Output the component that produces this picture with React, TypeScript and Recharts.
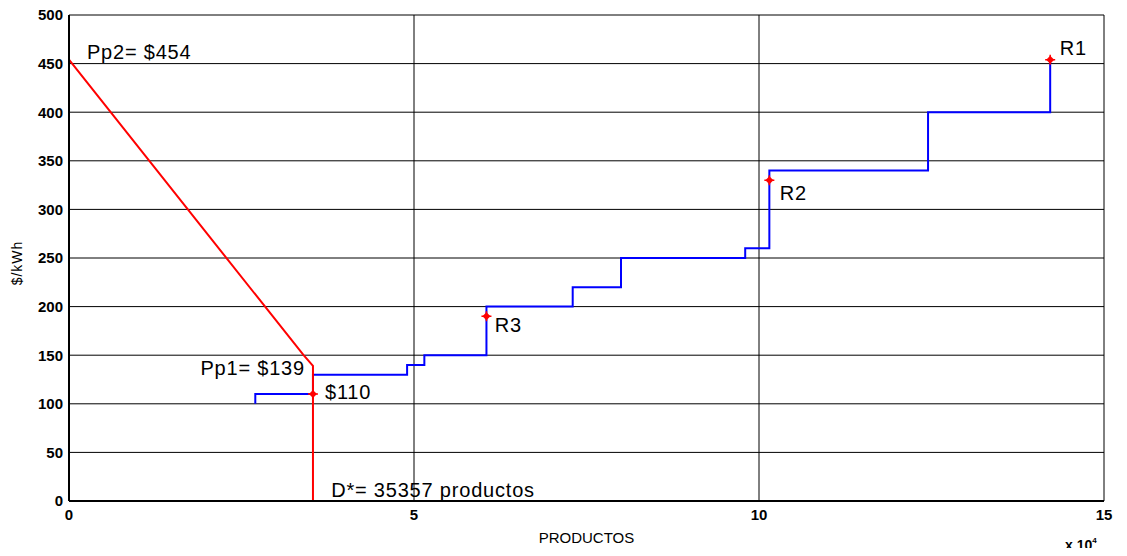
import React from 'react'
import {
    ComposedChart,
    XAxis,
    YAxis,
    CartesianGrid,
    Line,
    Scatter,
} from 'recharts'

// offer curve (step), corners as quantity / price
const offerQty = [27000, 35357, 49000, 51500, 60500, 73000, 80000, 98000, 101500, 124500, 142200, 142200]
const offerPrice = [100, 110, 130, 140, 150, 200, 220, 250, 260, 340, 400, 454]

// demand curve
const demandQty = [0, 34000, 35357, 35357]
const demandPrice = [454, 150, 139, 0]

// red markers
const markQty = [35357, 60500, 101500, 142200]
const markPrice = [110, 190, 330, 454]

// text notes on the plot
const noteText = ['Pp2= $454', 'Pp1= $139', '$110', 'R3', 'R2', 'R1', 'D*= 35357 productos']
const noteQty = [2600, 34200, 37100, 61700, 103000, 143600, 38000]
const notePrice = [462, 137, 112, 181, 317, 466, 11]
const noteAnchor = ['start', 'end', 'start', 'start', 'start', 'start', 'start']

const xTicks = [0, 50000, 100000, 150000]
const yTicks = [0, 50, 100, 150, 200, 250, 300, 350, 400, 450, 500]

const FONT = '"Liberation Sans", Arial, sans-serif'

const offer = offerQty.map((x, i) => ({ x, y: offerPrice[i] }))
const demand = demandQty.map((x, i) => ({ x, y: demandPrice[i] }))
const marks = markQty.map((x, i) => ({ x, y: markPrice[i] }))
const notes = noteText.map((t, i) => ({ x: noteQty[i], y: notePrice[i], t, a: noteAnchor[i] }))

const Marker = (p: any) => {
    const { cx, cy } = p
    return (
        <g>
            <path d={`M${cx - 4},${cy} L${cx},${cy - 4} L${cx + 4},${cy} L${cx},${cy + 4} Z`} fill="#ff0000" />
            <path d={`M${cx - 5},${cy} H${cx + 5} M${cx},${cy - 5} V${cy + 5}`} stroke="#ff0000" strokeWidth={1.5} />
        </g>
    )
}

const Note = (p: any) => (
    <text
        x={p.cx}
        y={p.cy}
        dy="0.35em"
        textAnchor={p.payload.a}
        fontFamily={FONT}
        fontSize={20}
        letterSpacing={0.8}
        fill="#000"
    >
        {p.payload.t}
    </text>
)

const XLabel = (p: any) => {
    const vb = p.viewBox
    return (
        <g fontFamily={FONT} fill="#000">
            <text x={vb.x + vb.width / 2} y={vb.y + 42} textAnchor="middle" fontSize={15}>PRODUCTOS</text>
            <text x={vb.x + vb.width - 39} y={vb.y + 49} fontSize={14} fontWeight="bold">
                x 10<tspan dy={-7} fontSize={8}>4</tspan>
            </text>
        </g>
    )
}

const YLabel = () => (
    <text
        x={17}
        y={263}
        transform="rotate(-90 17 263)"
        textAnchor="middle"
        dy="0.35em"
        fontFamily={FONT}
        fontSize={14}
        letterSpacing={1}
        fill="#000"
    >
        $/kWh
    </text>
)

const App = () => {
    const tick = { fill: '#000', fontSize: 15, fontWeight: 'bold', fontFamily: FONT }
    return (
        <div style={{ margin: -8 }}>
            <ComposedChart
                width={1127}
                height={556}
                margin={{ top: 15, right: 23, bottom: 25, left: 9 }}
            >
                <CartesianGrid stroke="#000" strokeWidth={1} horizontalValues={yTicks} verticalValues={xTicks} />
                <XAxis
                    dataKey="x"
                    type="number"
                    domain={[0, 150000]}
                    ticks={xTicks}
                    tickFormatter={(v: number) => String(v / 10000)}
                    allowDataOverflow
                    height={30}
                    tick={tick}
                    tickLine={false}
                    axisLine={{ stroke: '#000', strokeWidth: 2 }}
                    label={<XLabel />}
                />
                <YAxis
                    dataKey="y"
                    type="number"
                    domain={[0, 500]}
                    ticks={yTicks}
                    allowDataOverflow
                    width={60}
                    tick={tick}
                    tickLine={false}
                    tickMargin={0}
                    axisLine={{ stroke: '#000', strokeWidth: 2 }}
                    label={<YLabel />}
                />
                <Line
                    data={offer}
                    dataKey="y"
                    type="stepBefore"
                    stroke="#0000ff"
                    strokeWidth={2}
                    dot={false}
                    isAnimationActive={false}
                />
                <Line
                    data={demand}
                    dataKey="y"
                    type="linear"
                    stroke="#ff0000"
                    strokeWidth={2}
                    dot={false}
                    isAnimationActive={false}
                />
                <Scatter data={marks} dataKey="y" shape={Marker} isAnimationActive={false} />
                <Scatter data={notes} dataKey="y" shape={Note} isAnimationActive={false} />
            </ComposedChart>
        </div>
    )
}

export default App
